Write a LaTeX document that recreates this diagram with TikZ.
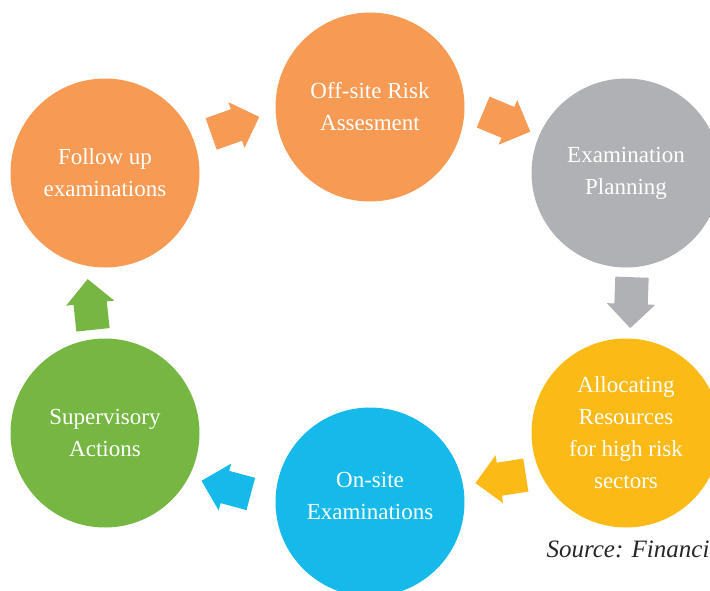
\documentclass[tikz,border=0pt]{standalone}
\usepackage{fontspec}
\setmainfont{Liberation Serif}
\usetikzlibrary{shapes.arrows}

\definecolor{orangeC}{RGB}{247,154,83}
\definecolor{greyC}{RGB}{176,177,180}
\definecolor{yellowC}{RGB}{251,186,22}
\definecolor{blueC}{RGB}{21,186,235}
\definecolor{greenC}{RGB}{118,183,68}

\tikzset{
    stage/.style={circle, minimum size=189pt, inner sep=0pt, text=white, align=center,
        font=\fontsize{23}{32}\selectfont},
    flow/.style={single arrow, anchor=tail, minimum height=51pt, inner xsep=0pt, inner ysep=16.5pt,
        single arrow head extend=7.5pt, single arrow tip angle=90}
}

\begin{document}
\begin{tikzpicture}[x=1pt, y=-1pt]
    \useasboundingbox (0,0) rectangle (710,590);

    \node[stage, fill=orangeC] (follow) at (105,173) {Follow up\\examinations};
    \node[stage, fill=orangeC] (offsite) at (370,107) {Off-site Risk\\Assesment};
    \node[stage, fill=greyC] (planning) at (626,173) {Examination\\Planning};
    \node[stage, fill=yellowC] (allocating) at (626,433) {Allocating\\Resources\\for high risk\\sectors};
    \node[stage, fill=blueC] (onsite) at (370,502) {};
    \node[stage, fill=none] (onsitetext) at ([yshift=6pt]onsite.center) {On-site\\Examinations};
    \node[stage, fill=greenC] (supervisory) at (105,433) {Supervisory\\Actions};

    % block arrows, placed by their tails
    \node[flow, fill=orangeC, rotate=19.5] (arrowA) at (211,134) {};
    \node[flow, fill=orangeC, rotate=-22.6] (arrowB) at (483,112) {};
    \node[flow, fill=greyC, rotate=-92] (arrowC) at (632,277) {};
    \node[flow, fill=yellowC, rotate=189] (arrowD) at (526,475) {};
    \node[flow, fill=blueC, rotate=165] (arrowE) at (251,494) {};
    \node[flow, fill=greenC, rotate=96] (arrowF) at (93,330) {};

    \node[anchor=base west, font=\fontsize{25}{28}\selectfont\itshape, text=black!85] (source) at (543,557) {Source: Financi};
\end{tikzpicture}
\end{document}
